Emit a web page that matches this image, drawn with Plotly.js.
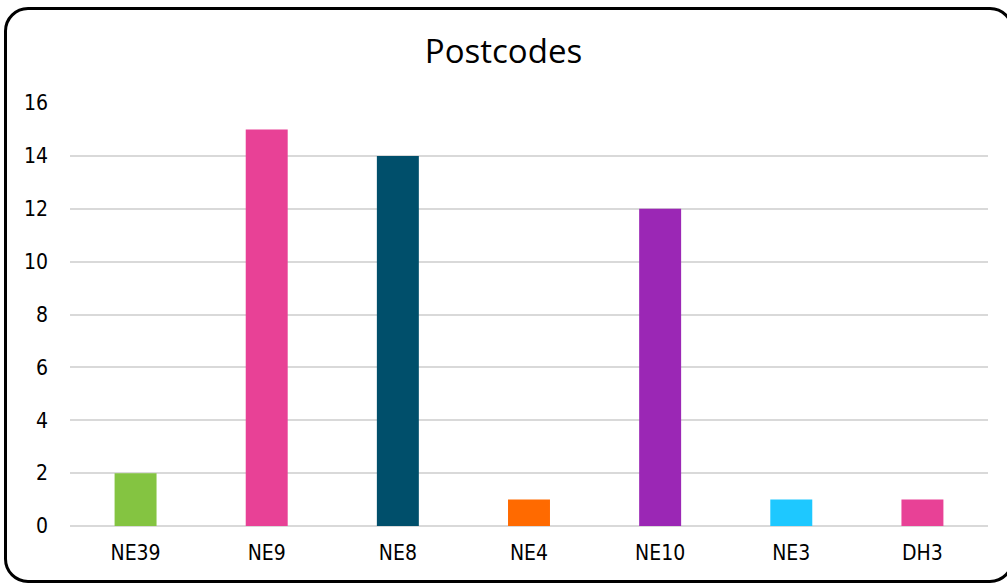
<!DOCTYPE html>
<html><head><meta charset="utf-8">
<script src="https://cdn.plot.ly/plotly-3.0.1.min.js"></script>
<style>
html,body{margin:0;padding:0;background:#fff;}
#wrap{position:relative;width:1007px;height:585px;overflow:hidden;}
#chart{position:absolute;left:0;top:0;width:1007px;height:585px;}
#frame{position:absolute;left:4px;top:7px;width:1010px;height:576px;border:3px solid #000;border-radius:24px;box-sizing:border-box;pointer-events:none;}
</style></head>
<body><div id="wrap"><div id="chart"></div><div id="frame"></div></div>
<script>
const categories = ["NE39","NE9","NE8","NE4","NE10","NE3","DH3"];
const counts = [2,15,14,1,12,1,1];
const barColors = ["#84C441","#E84196","#004F6B","#FF6A00","#9B27B5","#1EC8FF","#E84196"];
const yTicks = [0,2,4,6,8,10,12,14,16];

Plotly.newPlot("chart",[{
  type:"bar", x:categories, y:counts, width:0.32,
  marker:{color:barColors}, hoverinfo:"x+y"
}],{
  width:1007,height:585,
  margin:{l:70,r:19,t:103,b:59},
  paper_bgcolor:"rgba(0,0,0,0)", plot_bgcolor:"#fff",
  title:{text:"Postcodes",font:{family:"Open Sans, sans-serif",size:33,color:"#000"},x:0.5,xanchor:"center",y:1-51/585,yanchor:"middle",yref:"container"},
  xaxis:{type:"category",range:[-0.5,6.5],showgrid:false,showline:false,zeroline:false,ticks:"",
    tickfont:{family:"DejaVu Sans Condensed, DejaVu Sans, sans-serif",size:21,color:"#000"},ticklabelstandoff:12},
  yaxis:{range:[0,16],tickvals:yTicks,ticktext:yTicks.map(String),showgrid:true,gridcolor:"#d9d9d9",gridwidth:2,
    zeroline:true,zerolinecolor:"#d9d9d9",zerolinewidth:2,showline:false,ticks:"",
    tickfont:{family:"DejaVu Sans Condensed, DejaVu Sans, sans-serif",size:21,color:"#000"},ticklabelstandoff:21},
  showlegend:false,bargap:0.68
},{displayModeBar:false,staticPlot:true});
</script></body></html>
